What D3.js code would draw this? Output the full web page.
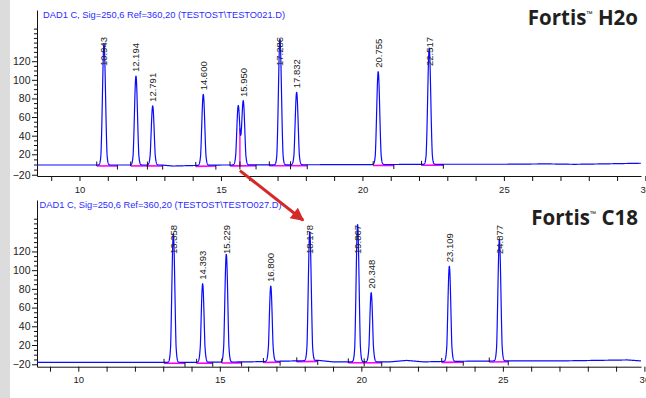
<!DOCTYPE html>
<html><head><meta charset="utf-8">
<script src="https://cdn.jsdelivr.net/npm/d3@7"></script>
<style>body{margin:0;background:#fff;overflow:hidden} svg{display:block}</style>
</head><body><svg id="c" width="646" height="398"></svg>
<script>
// ---------------- DATA ----------------
const xTickValues = [9,10,11,12,13,14,15,16,17,18,19,20,21,22,23,24,25,26,27,28,29,30];
const xTickLabels = [10,15,20,25,30];
const yTickLabels = [-20,20,40,60,80,100,120];
const yMinorTicks = [-10,0,10,25,30,35,45,50,55,65,70,75,85,90,95,105,110,115,125,130,135,140,145,150,155];

// Top panel (Fortis H2o)
const topTitle = "DAD1 C, Sig=250,6 Ref=360,20 (TESTOST\\TESTO021.D)";
const topBrand = "H2o";
const topPeakTimes   = [10.866, 11.996, 12.587, 14.375, 15.611, 15.788, 17.085, 17.675, 20.558, 22.361];
const topPeakHeights = [139, 104, 72, 84.4, 72, 77.2, 143.5, 86.6, 108.7, 134];
const topPeakLabels  = ["10.943","12.194","12.791","14.600","","15.950","17.286","17.832","20.755","22.517"];
const topPeakStarts  = [10.61, 11.81, 12.40, 14.11, 15.32, 15.67, 16.71, 17.46, 20.38, 22.09];
const topPeakEnds    = [11.34, 12.40, 12.94, 14.82, 15.67, 16.24, 17.46, 18.05, 21.11, 22.86];
const topBaseTimes   = [8.5, 10.5, 12.9, 13.3, 14.0, 15.0, 18.0, 21.0, 23.0, 25.0, 26.5, 27.5, 28.5, 29.85];
const topBaseValues  = [-1, -1, -1, -3, -2, -1, -0.5, 0, 0.5, 0.5, 1.2, 0.4, 1.2, 2.5];

// Bottom panel (Fortis C18)
const botTitle = "DAD1 C, Sig=250,6 Ref=360,20 (TESTOST\\TESTO027.D)";
const botBrand = "C18";
const botPeakTimes   = [13.358, 14.393, 15.229, 16.800, 18.178, 19.867, 20.348, 23.109, 24.877];
const botPeakHeights = [139.2, 85.5, 117, 83, 141, 148.9, 75.9, 104.1, 132.8];
const botPeakLabels  = ["13.358","14.393","15.229","16.800","18.178","19.867","20.348","23.109","24.877"];
const botPeakStarts  = [13.03, 14.18, 15.07, 16.54, 17.72, 19.54, 20.10, 22.84, 24.52];
const botPeakEnds    = [13.77, 14.75, 15.77, 17.13, 18.46, 20.10, 20.72, 23.60, 25.19];
const botBaseTimes   = [8.54, 12.0, 14.0, 16.0, 18.5, 19.0, 21.0, 21.6, 22.2, 23.0, 25.0, 27.0, 29.4, 29.88];
const botBaseValues  = [-16, -16, -16, -15, -12, -15, -15, -12, -15, -14, -13, -13, -11, -13];

// annotation arrow (from top panel drop line to bottom 18.178 peak)
const arrowFrom = {t: 15.67, v: -12};
const arrowTo   = {t: 18.0,  v: 152};

// ---------------- DRAW ----------------
const svg = d3.select("#c");
svg.append("rect").attr("x",0).attr("y",0).attr("width",10).attr("height",398).attr("fill","#dcdcdc");

const FONT = "'Liberation Sans', Arial, sans-serif";
const SIGMA = 0.055;

function panel(cfg){
  const x = d3.scaleLinear().domain(cfg.xDomain).range([37, 641]);
  const y = d3.scaleLinear().domain([cfg.yMin, 20, 175]).range([cfg.yBottom, cfg.yBottom - 21.7, cfg.yTop]);
  const base = d3.scaleLinear().domain(cfg.baseTimes).range(cfg.baseValues).clamp(true);
  const amps = cfg.peakTimes.map((t,i) => cfg.peakHeights[i] - base(t));
  const sig = t => base(t) + d3.sum(cfg.peakTimes, (tp,i) => amps[i]*Math.exp(-((t-tp)*(t-tp))/(2*SIGMA*SIGMA)));
  const g = svg.append("g");

  // axes
  const ya = g.append("g").attr("transform","translate(37,0)")
    .call(d3.axisLeft(y).tickValues(yTickLabels).tickSize(5).tickSizeOuter(0).tickPadding(1.5));
  ya.select(".domain").attr("stroke","#111");
  ya.selectAll(".tick line").attr("stroke","#111");
  ya.selectAll("text").attr("font-family",FONT).attr("font-size","10.5px").attr("fill","#222");
  const ym = g.append("g").attr("transform","translate(37,0)")
    .call(d3.axisLeft(y).tickValues(yMinorTicks).tickSize(3).tickFormat(""));
  ym.select(".domain").remove();
  ym.selectAll(".tick line").attr("stroke","#111");

  const xa = g.append("g").attr("transform",`translate(0,${cfg.yBottom})`)
    .call(d3.axisBottom(x).tickValues(xTickValues).tickSize(5).tickSizeOuter(0).tickPadding(5)
      .tickFormat(d => xTickLabels.includes(d) ? d : ""));
  xa.select(".domain").attr("stroke","#111");
  xa.selectAll(".tick line").attr("stroke","#111");
  xa.selectAll("text").attr("font-family",FONT).attr("font-size","9.5px").attr("fill","#222");

  // title
  g.append("text").attr("x", cfg.titleX).attr("y", cfg.yTop + 7.5).text(cfg.title)
    .attr("font-family",FONT).attr("font-size","9.3px").attr("fill","#2b2bff");

  // brand
  const b = g.append("text").attr("x",638).attr("y",cfg.yTop + cfg.brandDy).attr("text-anchor","end")
    .attr("font-family","'Open Sans', 'Noto Sans', sans-serif").attr("font-weight",700)
    .attr("font-size","20.5px").attr("fill","#231f20");
  b.append("tspan").text("Fortis");
  b.append("tspan").text("™").attr("font-size","8px").attr("dy","-8");
  b.append("tspan").text(" " + cfg.brand).attr("dy","8");

  // integration baselines (magenta)
  cfg.peakStarts.forEach((s,i) => {
    const e = cfg.peakEnds[i];
    g.append("line").attr("x1",x(s)).attr("x2",x(e)).attr("y1",y(base(s))).attr("y2",y(base(e)))
      .attr("stroke","#ff00ff").attr("stroke-width",1.6).attr("transform","translate(0,0.9)");
  });
  // drop lines where peaks share a boundary
  cfg.peakEnds.forEach((e,i) => {
    if (i+1 < cfg.peakStarts.length && Math.abs(cfg.peakStarts[i+1]-e) < 1e-6) {
      g.append("line").attr("x1",x(e)).attr("x2",x(e)).attr("y1",y(base(e))).attr("y2",y(sig(e)))
        .attr("stroke","#ff00ff").attr("stroke-width",1.4);
    }
  });

  // trace
  const ts = d3.range(cfg.xDomain[0], cfg.xDomain[1], 0.004);
  const pts = ts.map(t => ({t, v: sig(t)}));
  g.append("path").datum(pts)
    .attr("d", d3.line().x(d => x(d.t)).y(d => y(d.v)))
    .attr("fill","none").attr("stroke","#0a0aff").attr("stroke-width",1.2).attr("stroke-linejoin","round");

  // integration event ticks
  cfg.peakStarts.forEach(s => {
    const yy = y(base(s));
    g.append("line").attr("x1",x(s)).attr("x2",x(s)).attr("y1",yy+1).attr("y2",yy-3.5).attr("stroke","#111").attr("stroke-width",1);
  });
  cfg.peakEnds.forEach(e => {
    const yy = y(base(e));
    g.append("line").attr("x1",x(e)).attr("x2",x(e)).attr("y1",yy).attr("y2",yy+4.5).attr("stroke","#111").attr("stroke-width",1);
  });

  // peak labels
  const topLimit = cfg.yTop + cfg.labelTop;
  cfg.peakTimes.forEach((t,i) => {
    if (!cfg.peakLabels[i]) return;
    const px = x(t);
    const tx = g.append("text").text(cfg.peakLabels[i])
      .attr("font-family",FONT).attr("font-size","9.5px").attr("fill","#222").attr("dy","0.36em");
    const len = tx.node().getComputedTextLength();
    const y0 = Math.max(y(cfg.peakHeights[i]) - 4, topLimit + len);
    tx.attr("transform",`translate(${px},${y0}) rotate(-90)`);
  });
  return {x, y};
}

const P1 = panel({xDomain:[8.498, 29.846], yMin:-22.5, yBottom:176, yTop:10, titleX:43,
  title: topTitle, brand: topBrand, brandDy: 15,
  peakTimes: topPeakTimes, peakHeights: topPeakHeights, peakLabels: topPeakLabels,
  peakStarts: topPeakStarts, peakEnds: topPeakEnds, baseTimes: topBaseTimes, baseValues: topBaseValues,
  labelTop: 27});
const P2 = panel({xDomain:[8.541, 29.88], yMin:-25, yBottom:366.7, yTop:200, titleX:39.5,
  title: botTitle, brand: botBrand, brandDy: 25,
  peakTimes: botPeakTimes, peakHeights: botPeakHeights, peakLabels: botPeakLabels,
  peakStarts: botPeakStarts, peakEnds: botPeakEnds, baseTimes: botBaseTimes, baseValues: botBaseValues,
  labelTop: 25});

// arrow
const defs = svg.append("defs");
defs.append("marker").attr("id","ah").attr("viewBox","0 0 10 10").attr("refX",9).attr("refY",5)
  .attr("markerWidth",5).attr("markerHeight",4.4).attr("orient","auto").attr("markerUnits","strokeWidth")
  .append("path").attr("d","M0,0 L10,5 L0,10 Z").attr("fill","#d42a27");
const ax1 = P1.x(arrowFrom.t), ay1 = P1.y(arrowFrom.v), ax2 = P2.x(arrowTo.t), ay2 = P2.y(arrowTo.v);
const ang = Math.atan2(ay2-ay1, ax2-ax1);
svg.append("line").attr("x1",ax1).attr("y1",ay1)
  .attr("x2",ax2 - 2*Math.cos(ang)).attr("y2",ay2 - 2*Math.sin(ang))
  .attr("stroke","#d42a27").attr("stroke-width",3).attr("marker-end","url(#ah)");
</script></body></html>
